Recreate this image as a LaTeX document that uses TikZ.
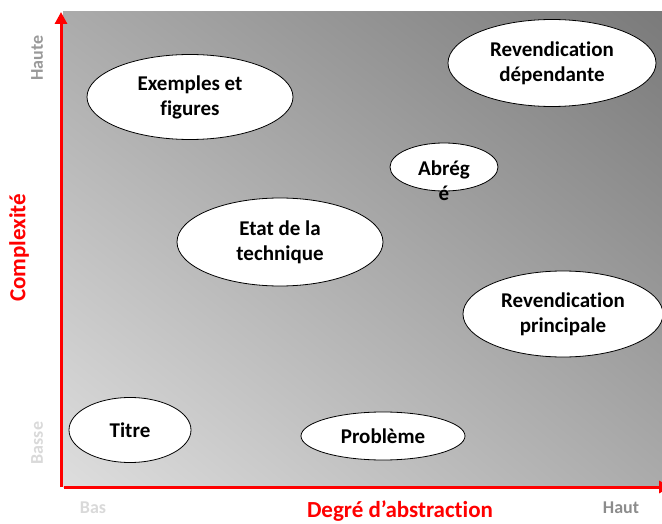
\documentclass[tikz,border=0pt]{standalone}
\usepackage{fontspec}
\setmainfont{Carlito}[Ligatures=NoCommon]
\usetikzlibrary{shapes.geometric}
\usetikzlibrary{shadings}
\usetikzlibrary{arrows.meta}

\definecolor{fondbas}{gray}{0.87}
\definecolor{fondmilieu}{gray}{0.67}
\definecolor{fondhaut}{gray}{0.48}

\begin{document}
\begin{tikzpicture}
[x=1pt,y=-1pt,%
  bulle/.style={ellipse,draw,fill=white,line width=0.8pt,inner sep=0pt,align=center,%
    font=\bfseries\fontsize{21}{25}\selectfont},%
  axe/.style={red,line width=3pt,-{Triangle[length=12pt,width=12pt]}},%
  repere/.style={font=\bfseries\fontsize{18}{20}\selectfont},%
  titreaxe/.style={red,font=\bfseries\fontsize{23}{26}\selectfont}]
\useasboundingbox (0,0) rectangle (662,524);
\shade[lower left=fondbas,upper right=fondhaut,upper left=fondmilieu,lower right=fondmilieu]
  (63,12) rectangle (662,487);
% axes
\coordinate (origineY) at (61,487);
\coordinate (sommetY) at (61,12);
\coordinate (origineX) at (64,487);
\coordinate (sommetX) at (671,487);
\draw[axe] (origineY) -- (sommetY);
\draw[axe] (origineX) -- (sommetX);
% bulles
\node[bulle,minimum width=206pt,minimum height=85pt] (exemples) at (190,97) {Exemples et\\figures};
\node[bulle,minimum width=208pt,minimum height=87pt] (dependante) at (552,63) {Revendication\\dépendante};
\node[bulle,minimum width=108pt,minimum height=48pt] (abrege) at (444,167) {};
\node[align=center,font=\bfseries\fontsize{21}{25}\selectfont] (abregetxt) at (444,181) {Abrég\\é};
\node[bulle,minimum width=206pt,minimum height=88pt] (etat) at (280,242) {Etat de la\\technique};
\node[bulle,minimum width=200pt,minimum height=86pt] (principale) at (563,314) {Revendication\\principale};
\node[bulle,minimum width=122pt,minimum height=65pt] (titre) at (130,430) {Titre};
\node[bulle,minimum width=164pt,minimum height=48pt] (probleme) at (383,436) {Problème};
% reperes
\node[repere,black!40,rotate=90] (haute) at (37,58) {Haute};
\node[repere,black!15,rotate=90] (basse) at (37,443) {Basse};
\node[repere,black!15] (bas) at (93,508) {Bas};
\node[repere,black!45] (haut) at (621,508) {Haut};
\node[titreaxe,rotate=90] (complexite) at (19,248) {Complexité};
\node[titreaxe] (abstraction) at (400,511) {Degré d’abstraction};
\end{tikzpicture}
\end{document}
